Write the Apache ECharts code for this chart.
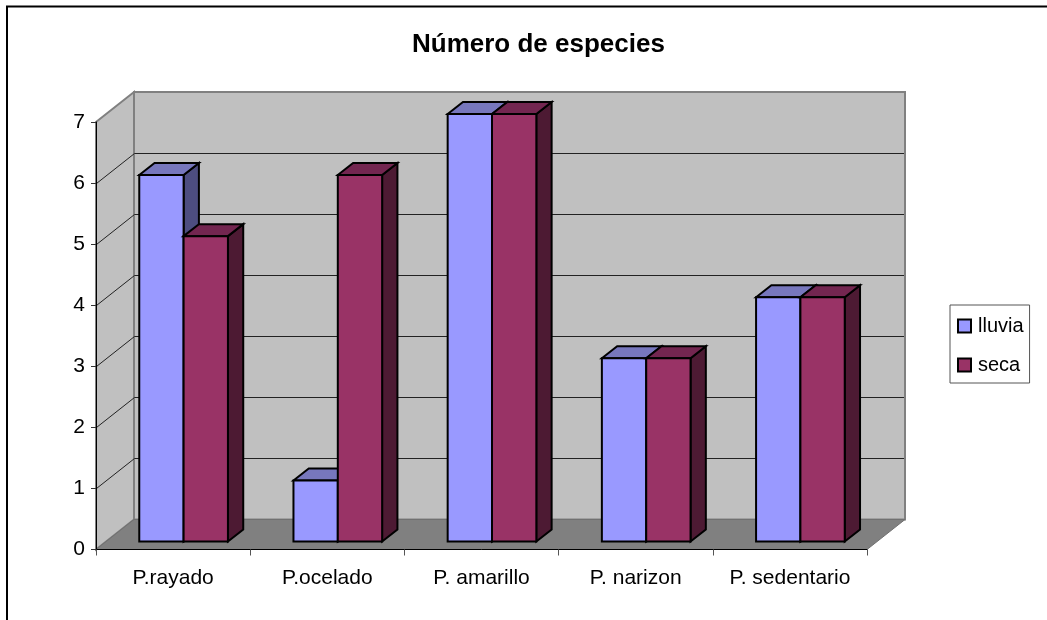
<!DOCTYPE html>
<html>
<head>
<meta charset="utf-8">
<style>html,body{margin:0;padding:0;background:#fff;overflow:hidden}#chart{width:1047px;height:620px}</style>
<script src="https://cdn.jsdelivr.net/npm/echarts@6/dist/echarts.min.js"></script>
</head>
<body>
<div id="chart"></div>
<script>
// Species counts per habitat, by season
const titleText = 'Número de especies';
const categories = ['P.rayado', 'P.ocelado', 'P. amarillo', 'P. narizon', 'P. sedentario'];
const lluvia = [6, 1, 7, 3, 4];
const seca = [5, 6, 7, 3, 4];
const gridValues = [1, 2, 3, 4, 5, 6];

const FONT = '"Liberation Sans", Arial, sans-serif';
const WALL_DX = 38, WALL_DY = 30;       // depth of the chart box
const BAR_DX = 15.3, BAR_DY = 12;       // depth of each column
const BAR_INSET_X = 10.5, BAR_INSET_Y = 8;
const BAR_SHARE = 0.2875;               // column width as a share of one category band

function poly(points, fill, stroke, lineWidth) {
  return {
    type: 'polygon',
    shape: { points: points },
    style: { fill: fill, stroke: stroke || null, lineWidth: lineWidth || 0, lineJoin: 'miter' }
  };
}

// Back wall, side wall and floor of the box
function renderWalls(params) {
  const c = params.coordSys;
  const l = c.x, r = c.x + c.width, t = c.y, b = c.y + c.height;
  const edge = '#808080';
  return {
    type: 'group',
    children: [
      poly([[l + WALL_DX, t - WALL_DY], [r + WALL_DX, t - WALL_DY], [r + WALL_DX, b - WALL_DY], [l + WALL_DX, b - WALL_DY]], '#C0C0C0', edge, 2),
      poly([[l, t], [l + WALL_DX, t - WALL_DY], [l + WALL_DX, b - WALL_DY], [l, b]], '#C0C0C0', edge, 2),
      poly([[l, b], [l + WALL_DX, b - WALL_DY], [r + WALL_DX, b - WALL_DY], [r, b]], '#808080', '#707070', 1)
    ]
  };
}

// Gridline folded over the side wall and the back wall
function renderGrid(params, api) {
  const c = params.coordSys;
  const y = Math.round(api.coord([0, api.value(0)])[1]) + 0.5;
  const l = c.x + 0.5, r = c.x + c.width + WALL_DX - 1;
  return {
    type: 'polyline',
    shape: { points: [[l, y], [l + WALL_DX, y - WALL_DY], [r, y - WALL_DY]] },
    style: { fill: null, stroke: '#222222', lineWidth: 1 }
  };
}

// One column: front, top and side faces
function columnRenderer(seriesIndex, front, top, side) {
  return function (params, api) {
    const cat = api.value(0);
    const band = api.size([1, 0])[0];
    const w = band * BAR_SHARE;
    const center = api.coord([cat, 0])[0];
    const x0 = center - w + BAR_INSET_X + seriesIndex * w;
    const x1 = x0 + w;
    const yb = api.coord([cat, 0])[1] - BAR_INSET_Y;
    const yt = api.coord([cat, api.value(1)])[1] - BAR_INSET_Y;
    const ink = '#000000';
    return {
      type: 'group',
      children: [
        poly([[x1, yb], [x1 + BAR_DX, yb - BAR_DY], [x1 + BAR_DX, yt - BAR_DY], [x1, yt]], side, ink, 2),
        poly([[x0, yt], [x0 + BAR_DX, yt - BAR_DY], [x1 + BAR_DX, yt - BAR_DY], [x1, yt]], top, ink, 2),
        poly([[x0, yb], [x1, yb], [x1, yt], [x0, yt]], front, ink, 2)
      ]
    };
  };
}

const chart = echarts.init(document.getElementById('chart'), null, { renderer: 'canvas' });
chart.setOption({
  animation: false,
  backgroundColor: '#ffffff',
  textStyle: { fontFamily: FONT },
  title: {
    text: titleText,
    left: 407, top: 27,
    textStyle: { fontFamily: FONT, fontSize: 26, fontWeight: 'bold', color: '#000' }
  },
  graphic: [{
    type: 'rect', silent: true,
    shape: { x: 7, y: 6.5, width: 1200, height: 800 },
    style: { fill: null, stroke: '#000', lineWidth: 2 }
  }],
  legend: {
    orient: 'vertical',
    left: 950, top: 305,
    padding: [11, 6, 8, 7],
    itemWidth: 13, itemHeight: 13, itemGap: 19,
    icon: 'rect',
    borderColor: '#555', borderWidth: 1,
    backgroundColor: '#fff',
    selectedMode: false,
    data: ['lluvia', 'seca'],
    textStyle: { fontFamily: FONT, fontSize: 20, color: '#000', padding: [0, 0, 0, 2] }
  },
  grid: { left: 96, right: 180, top: 122, bottom: 70.5 },
  xAxis: {
    type: 'category', data: categories, z: 5,
    axisLine: { show: true, lineStyle: { color: '#000', width: 1 } },
    axisTick: { show: true, interval: 0, length: 6, lineStyle: { color: '#555' } },
    axisLabel: { interval: 0, hideOverlap: false, fontFamily: FONT, fontSize: 21, color: '#000', margin: 18 }
  },
  yAxis: {
    type: 'value', min: 0, max: 7, interval: 1, z: 5,
    splitLine: { show: false },
    axisLine: { show: true, lineStyle: { color: '#000', width: 1 } },
    axisTick: { show: true, length: 5, lineStyle: { color: '#333' } },
    axisLabel: { fontFamily: FONT, fontSize: 21, color: '#000', margin: 11, padding: [4, 0, 0, 0] }
  },
  series: [
    { type: 'custom', name: 'walls', silent: true, renderItem: renderWalls, data: [0], encode: { x: [], y: [] }, z: 1 },
    { type: 'custom', name: 'grid', silent: true, renderItem: renderGrid, data: gridValues.map(v => [v]), encode: { y: 0 }, z: 1 },
    {
      type: 'custom', name: 'lluvia', silent: true, z: 2,
      renderItem: columnRenderer(0, '#9999FF', '#7777BD', '#4D4D80'),
      itemStyle: { color: '#9999FF', borderColor: '#000', borderWidth: 2 },
      encode: { x: 0, y: 1 },
      data: lluvia.map((v, i) => [i, v])
    },
    {
      type: 'custom', name: 'seca', silent: true, z: 2,
      renderItem: columnRenderer(1, '#993366', '#732650', '#4D1A33'),
      itemStyle: { color: '#993366', borderColor: '#000', borderWidth: 2 },
      encode: { x: 0, y: 1 },
      data: seca.map((v, i) => [i, v])
    }
  ]
});
</script>
</body>
</html>
